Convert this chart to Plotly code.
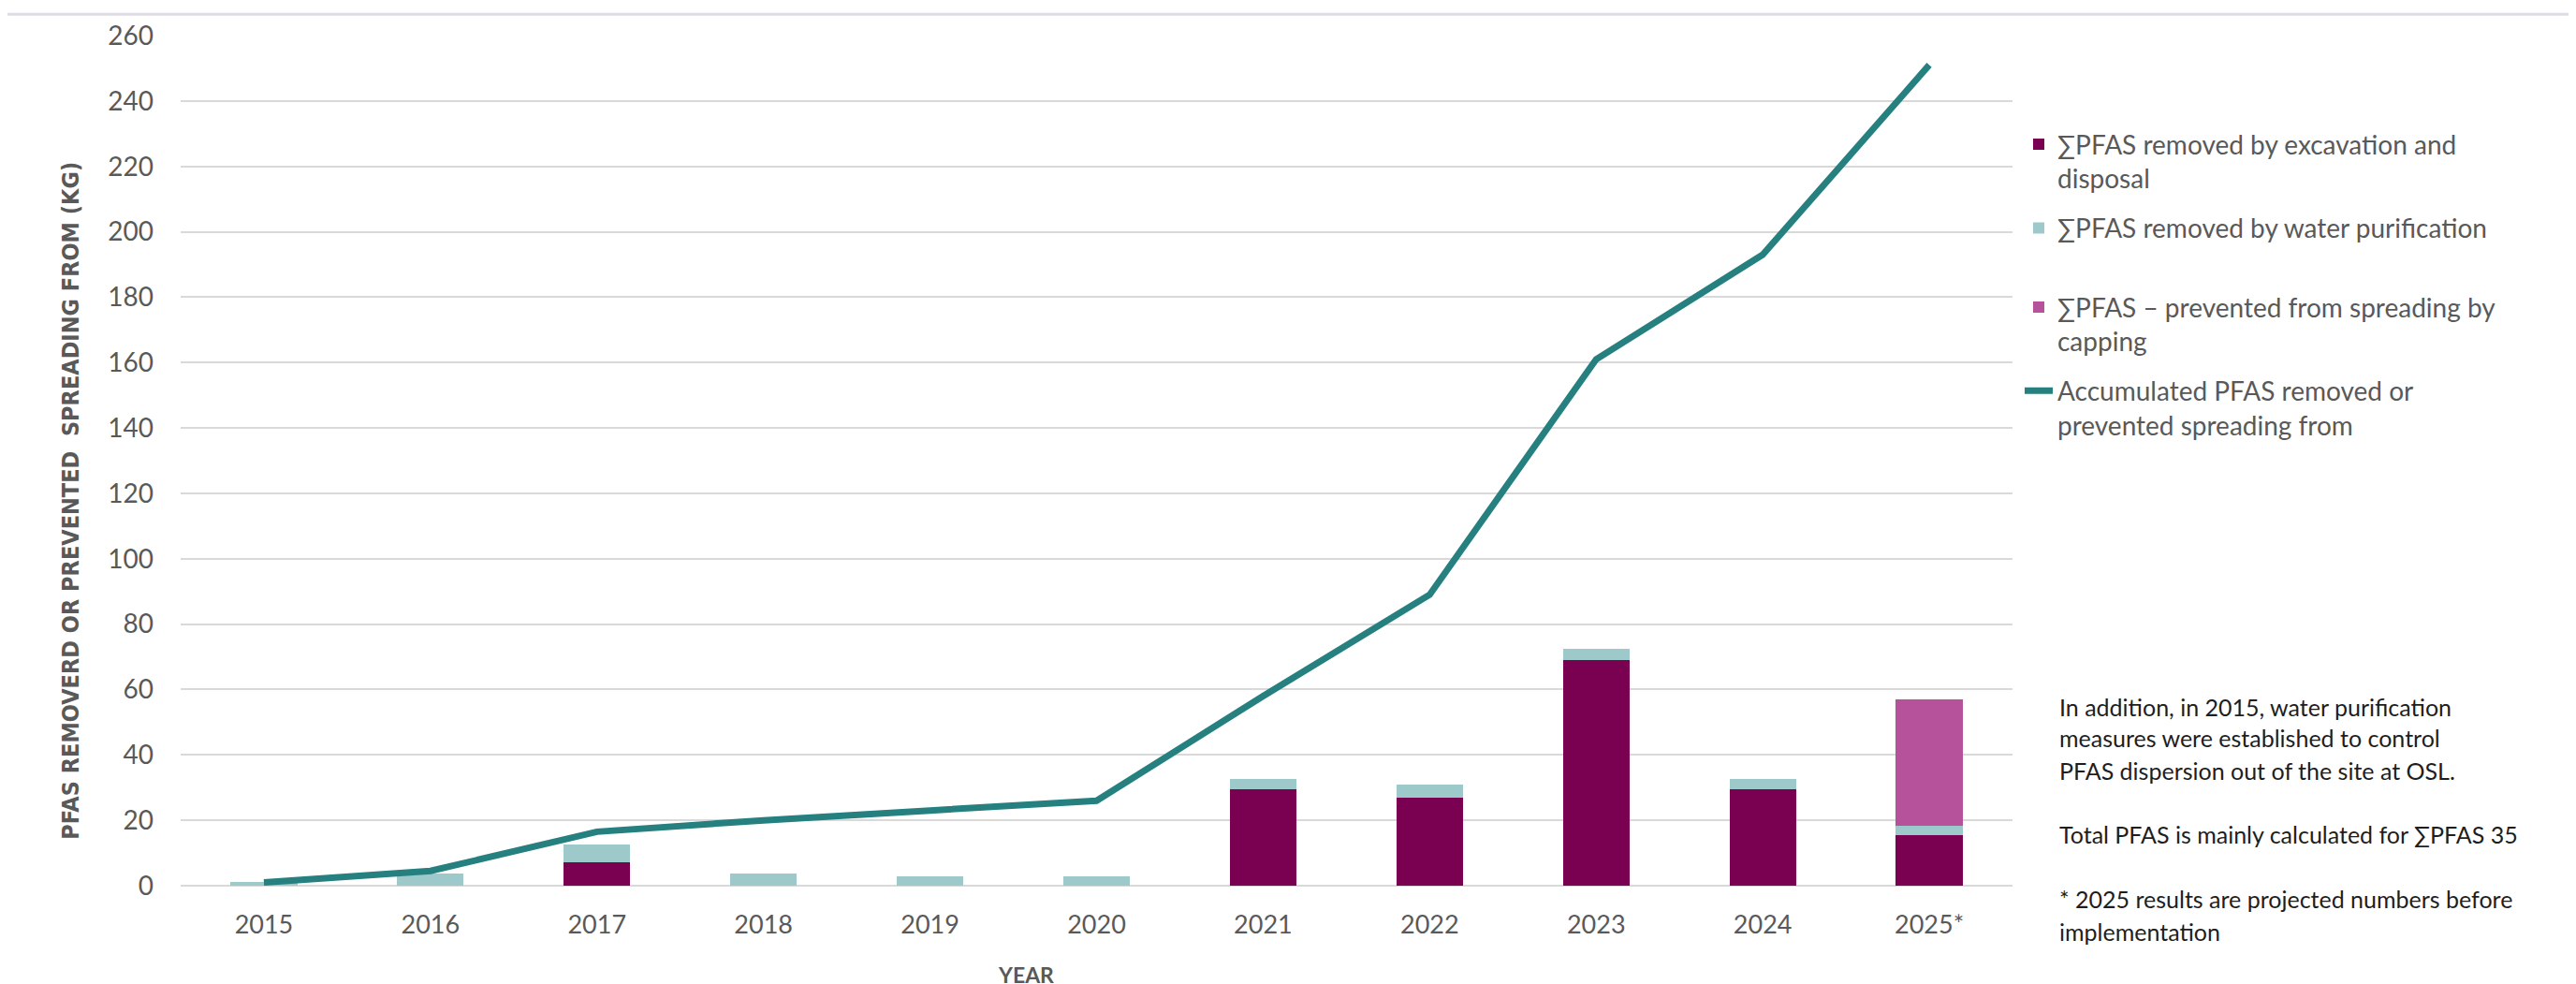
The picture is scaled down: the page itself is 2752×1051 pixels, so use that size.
import plotly.graph_objects as go

years = ["2015", "2016", "2017", "2018", "2019", "2020", "2021", "2022", "2023", "2024", "2025*"]
excavation = [0, 0, 7.2, 0, 0, 0, 29.5, 27, 69, 29.5, 15.5]
water = [1.2, 3.6, 5.3, 3.7, 2.9, 2.9, 3.2, 4.0, 3.5, 3.2, 2.8]
capping = [0, 0, 0, 0, 0, 0, 0, 0, 0, 0, 38.7]
accumulated = [1, 4.5, 16.5, 20, 23, 26, 58, 89, 161, 193, 251]
y_ticks = list(range(0, 261, 20))

names = [
    "∑PFAS removed by excavation and<br>disposal",
    "∑PFAS removed by water purification",
    "∑PFAS – prevented from spreading by<br>capping",
    "Accumulated PFAS removed or<br>prevented spreading from",
]
note_lines = [
    "In addition, in 2015, water purification",
    "measures were established to control",
    "PFAS dispersion out of the site at OSL.",
    "Total PFAS is mainly calculated for ∑PFAS 35",
    "* 2025 results are projected numbers before",
    "implementation",
]

W, H = 2752, 1051
L, R, T, B = 185, 610, 24, 113
PH = H - T - B
PW = W - L - R
Y0 = H - B

def py(px):
    return (Y0 - px) / PH

def pxx(px):
    return (px - L) / PW

GRAY = "#595959"
FONT = "Lato, Carlito, Calibri, sans-serif"

fig = go.Figure()
fig.add_trace(go.Bar(x=years, y=excavation, name=names[0], marker_color="#7A0052",
                     marker_line_width=0, legend="legend", showlegend=True))
fig.add_trace(go.Bar(x=years, y=water, name=names[1], marker_color="#9DC9CB",
                     marker_line_width=0, legend="legend2", showlegend=True))
fig.add_trace(go.Bar(x=years, y=capping, name=names[2], marker_color="#B6529B",
                     marker_line_width=0, legend="legend3", showlegend=True))
fig.add_trace(go.Scatter(x=years, y=accumulated, name=names[3], mode="lines",
                         line=dict(color="#25807F", width=7), legend="legend4",
                         showlegend=True))

leg_common = dict(font=dict(family=FONT, size=28, color=GRAY), bgcolor="rgba(0,0,0,0)",
                  xanchor="left", yanchor="top", valign="top", itemwidth=30)
legend_tops = [116, 206, 291, 381]
fig.update_layout(
    showlegend=True,
    legend=dict(x=pxx(2150), y=py(legend_tops[0]), **leg_common),
    legend2=dict(x=pxx(2150), y=py(legend_tops[1]), **leg_common),
    legend3=dict(x=pxx(2150), y=py(legend_tops[2]), **leg_common),
    legend4=dict(x=pxx(2150), y=py(legend_tops[3]), **leg_common),
)

fig.update_layout(
    width=W, height=H,
    margin=dict(l=L, r=R, t=T, b=B),
    paper_bgcolor="white", plot_bgcolor="white",
    barmode="stack", bargap=0.6,
    font=dict(family=FONT, color=GRAY),
    xaxis=dict(type="category", showgrid=False, showline=False, ticks="",
               tickfont=dict(family=FONT, size=27, color=GRAY), ticklabelstandoff=23),
    yaxis=dict(range=[0, 260], tickvals=y_ticks, showgrid=True, gridcolor="#D9D9D9",
               gridwidth=2, zeroline=True, zerolinecolor="#D9D9D9", zerolinewidth=2,
               showline=False, ticks="", tickfont=dict(family=FONT, size=28, color=GRAY),
               ticklabelstandoff=28),
)

anns = [
    dict(text="<b>PFAS REMOVERD OR PREVENTED  SPREADING FROM (KG)</b>", textangle=-90,
         x=pxx(68), y=py(524), xanchor="center", yanchor="middle",
         font=dict(family="Liberation Sans Narrow, DejaVu Sans Condensed, Arial Narrow, sans-serif",
                   size=25, color=GRAY)),
    dict(text="<b>YEAR</b>", x=pxx(1088), y=py(1034), xanchor="center", yanchor="middle",
         font=dict(family=FONT, size=23, color=GRAY)),
]
note_centers = [746, 779, 814, 883, 952, 987]
for t, c in zip(note_lines, note_centers):
    anns.append(dict(text=t, x=pxx(2190), y=py(c), xanchor="left", yanchor="middle",
                     align="left", font=dict(family=FONT, size=25, color="#1E1E1E")))
for a in anns:
    a.update(xref="paper", yref="paper", showarrow=False)
fig.update_layout(annotations=anns)

fig.add_shape(type="line", xref="paper", yref="paper", x0=pxx(0), x1=pxx(W),
              y0=py(1), y1=py(1), line=dict(color="#DCDCE4", width=3))

fig.write_html("out.html")
